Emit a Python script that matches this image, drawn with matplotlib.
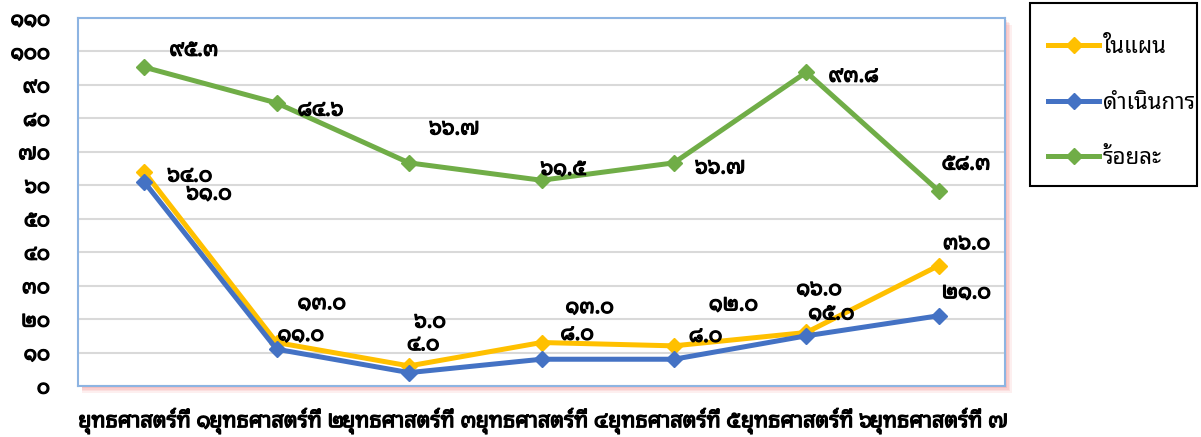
import matplotlib
matplotlib.use("Agg")
import matplotlib.pyplot as plt
from matplotlib import font_manager
from matplotlib.ft2font import FT2Font
from matplotlib.patches import Rectangle
import matplotlib.patheffects as pe

# ---------------- data ----------------
categories = ["ยุทธศาสตร์ที่ 1", "ยุทธศาสตร์ที่ 2", "ยุทธศาสตร์ที่ 3", "ยุทธศาสตร์ที่ 4",
              "ยุทธศาสตร์ที่ 5", "ยุทธศาสตร์ที่ 6", "ยุทธศาสตร์ที่ 7"]
plan = [64.0, 13.0, 6.0, 13.0, 12.0, 16.0, 36.0]
done = [61.0, 11.0, 4.0, 8.0, 8.0, 15.0, 21.0]
percent = [95.3, 84.6, 66.7, 61.5, 66.7, 93.8, 58.3]
series_names = ["ในแผน", "ดำเนินการ", "ร้อยละ"]
yticks = [0, 10, 20, 30, 40, 50, 60, 70, 80, 90, 100, 110]

# label offsets (pixels from the point to the label's left / vertical centre)
off_plan = [(23, -4), (21, 39), (5, 44), (24, 35), (35, 41), (-10, 43), (4, 22)]
off_done = [(42, -12), (1, 14), (-2, 28), (19, 25), (15, 23), (2, 22), (3, 23)]
off_pct = [(25, 17), (21, -7), (20, 34), (-1, 11), (21, -5), (22, -4), (3, 27)]

THAI_DIGITS = str.maketrans("0123456789", "๐๑๒๓๔๕๖๗๘๙")
def th(s):
    return str(s).translate(THAI_DIGITS)

# ---------------- font with Thai glyphs ----------------
def find_thai_font():
    prefs = ["Noto Sans Thai Looped", "Noto Sans Thai", "Noto Serif Thai", "Loma", "Garuda",
             "Sarabun", "TH Sarabun New", "Tahoma", "Leelawadee UI"]
    cands = {}
    for f in font_manager.fontManager.ttflist:
        try:
            ft = FT2Font(f.fname)
            cmap = ft.get_charmap()
            if 0x0E01 in cmap and 0x0E51 in cmap:
                cands.setdefault(f.name, f.fname)
        except Exception:
            pass
    for p in prefs:
        if p in cands:
            return p
    if cands:
        return sorted(cands)[0]
    return None

thai = find_thai_font()
fams = ([thai] if thai else []) + ["DejaVu Sans"]
plt.rcParams["font.family"] = fams

BOLD = [pe.withStroke(linewidth=0.9, foreground="black")]

W, H, DPI = 1201, 437, 100
fig = plt.figure(figsize=(W / DPI, H / DPI), dpi=DPI)
fig.patch.set_facecolor("white")

ax_l, ax_r, ax_t, ax_b = 78, 1005, 18, 386
ax = fig.add_axes([ax_l / W, 1 - ax_b / H, (ax_r - ax_l) / W, (ax_b - ax_t) / H])

# soft pink shadow below / right of the plot area
for i, a in enumerate([0.12, 0.14, 0.16, 0.2]):
    d = 7 - i * 1.6
    fig.patches.append(Rectangle(((ax_l + 4) / W, 1 - (ax_b + d) / H),
                                 (ax_r - ax_l - 4 + d) / W, (ax_b - ax_t) / H,
                                 transform=fig.transFigure, facecolor="#F08080",
                                 edgecolor="none", alpha=a, zorder=-5))

x = list(range(len(categories)))
colors = ["#FFC000", "#4472C4", "#70AD47"]
handles = []
for vals, c, name in zip([plan, done, percent], colors, series_names):
    h, = ax.plot(x, vals, color=c, lw=3.6, marker="D", ms=8, label=name, zorder=3)
    handles.append(h)

ax.set_xlim(-0.5, len(categories) - 0.5)
ax.set_ylim(0, 110)
ax.set_yticks(yticks)
ax.set_yticklabels([th(v) for v in yticks], fontsize=14.5)
ax.set_xticks(x)
ax.set_xticklabels([th(c) for c in categories], fontsize=15.5)
for t in ax.get_xticklabels() + ax.get_yticklabels():
    t.set_path_effects(BOLD)
ax.tick_params(length=0)
ax.tick_params(axis="y", pad=28 * 0.72)
ax.tick_params(axis="x", pad=16)
ax.grid(axis="y", color="#D9D9D9", lw=1.5)
ax.set_axisbelow(True)
for s in ax.spines.values():
    s.set_color("#8DB4E2")
    s.set_linewidth(1.5)
ax.set_facecolor("white")

def labels(vals, offs):
    for xi, v, (dx, dy) in zip(x, vals, offs):
        ax.annotate(th(f"{v:.1f}"), (xi, v), xytext=(dx * 0.72, dy * 0.72),
                    textcoords="offset points", ha="left", va="center",
                    fontsize=15, color="black", zorder=5, path_effects=BOLD)

labels(plan, off_plan)
labels(done, off_done)
labels(percent, off_pct)

# legend: frame drawn at the reference position, entries without own frame
fig.patches.append(Rectangle((1030 / W, 1 - 186 / H), 167 / W, 183 / H,
                             transform=fig.transFigure, facecolor="white",
                             edgecolor="black", lw=1.5, zorder=1))
leg = fig.legend(handles=handles, loc="upper left", bbox_to_anchor=(1037 / W, 1 - 26 / H),
                 frameon=False, fontsize=16, handlelength=2.3, labelspacing=1.55,
                 borderpad=0, handletextpad=0.15)
leg.set_zorder(2)

fig.savefig("out.png", dpi=DPI, facecolor="white")
